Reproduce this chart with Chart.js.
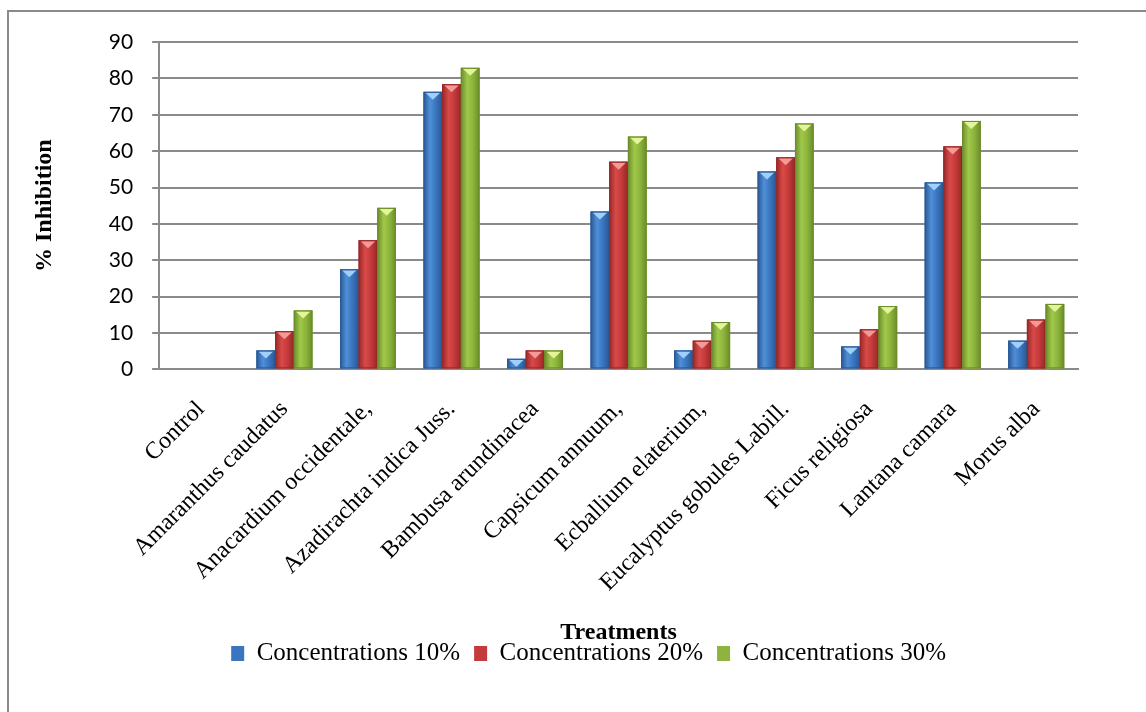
<!DOCTYPE html>
<html>
<head>
<meta charset="utf-8">
<script src="https://cdn.jsdelivr.net/npm/chart.js@4.4.1/dist/chart.umd.min.js"></script>
<style>
    body { margin: 0; background: #fff; }
    .wrap { position: relative; width: 1146px; height: 712px; }
    .frame {
        position: absolute; left: 7px; top: 10px; right: 0; bottom: 0;
        border-left: 2px solid #8a8a8a; border-top: 2px solid #8a8a8a;
        pointer-events: none;
    }
</style>
</head>
<body>
<div class="wrap">
    <canvas id="chart"></canvas>
    <div class="frame"></div>
</div>
<script>
// Données du graphique
const treatments = [
    'Control', 'Amaranthus caudatus', 'Anacardium occidentale,', 'Azadirachta indica Juss.',
    'Bambusa arundinacea', 'Capsicum annuum,', 'Ecballium elaterium,', 'Eucalyptus gobules Labill.',
    'Ficus religiosa', 'Lantana camara', 'Morus alba'
];
const conc10 = [0, 5.2, 27.5, 76.3, 2.9, 43.4, 5.2, 54.4, 6.3, 51.4, 7.9];
const conc20 = [0, 10.5, 35.5, 78.4, 5.2, 57.1, 7.9, 58.3, 11.0, 61.3, 13.7];
const conc30 = [0, 16.2, 44.4, 82.9, 5.2, 64.0, 13.0, 67.6, 17.4, 68.3, 18.0];
const seriesLabels = ['Concentrations 10%', 'Concentrations 20%', 'Concentrations 30%'];
const yTicks = [0, 10, 20, 30, 40, 50, 60, 70, 80, 90];

// Couleurs : base, bord sombre, centre clair, pointe claire
const palette = [
    { base: '#3a76c0', dark: '#2a5894', light: '#4f8fd8', tip: '#9fd0fa' },
    { base: '#c53a3a', dark: '#962828', light: '#d84a48', tip: '#f49a96' },
    { base: '#8db43c', dark: '#6a8c2a', light: '#a0c84a', tip: '#e2f59a' }
];

// Effet "biseau" façon Excel sur chaque barre
const bevelPlugin = {
    id: 'bevel',
    afterDatasetsDraw(chart) {
        const ctx = chart.ctx;
        chart.data.datasets.forEach((ds, i) => {
            const meta = chart.getDatasetMeta(i);
            const col = palette[i];
            meta.data.forEach(bar => {
                const p = bar.getProps(['x', 'y', 'base', 'width'], true);
                const h = p.base - p.y;
                if (h <= 0.5) return;
                const left = p.x - p.width / 2;
                const right = p.x + p.width / 2;
                const grad = ctx.createLinearGradient(left, 0, right, 0);
                grad.addColorStop(0, col.dark);
                grad.addColorStop(0.35, col.light);
                grad.addColorStop(0.65, col.base);
                grad.addColorStop(1, col.dark);
                ctx.save();
                ctx.fillStyle = grad;
                ctx.fillRect(left, p.y, p.width, h);
                // pointe claire en haut
                const th = Math.min(8, h);
                ctx.fillStyle = col.tip;
                ctx.beginPath();
                ctx.moveTo(left + 2, p.y + 1);
                ctx.lineTo(right - 2, p.y + 1);
                ctx.lineTo(p.x, p.y + th);
                ctx.closePath();
                ctx.fill();
                ctx.strokeStyle = col.dark;
                ctx.lineWidth = 1;
                ctx.strokeRect(left + 0.5, p.y + 0.5, p.width - 1, h - 1);
                ctx.restore();
            });
        });
    }
};

// Décale un peu la légende vers la gauche, comme dans l'original
const legendShift = {
    id: 'legendShift',
    afterLayout(chart) {
        if (chart.legend) {
            chart.legend.left -= 30;
            chart.legend.right -= 30;
        }
    }
};

const dataSeries = [conc10, conc20, conc30];
const serif = '"Liberation Serif", "Times New Roman", serif';

new Chart(document.getElementById('chart'), {
    type: 'bar',
    data: {
        labels: treatments,
        datasets: dataSeries.map((values, i) => ({
            label: seriesLabels[i],
            data: values,
            backgroundColor: palette[i].base,
            borderWidth: 0,
            barPercentage: 1,
            categoryPercentage: 0.67
        }))
    },
    options: {
        responsive: true,
        maintainAspectRatio: false,
        animation: false,
        layout: { padding: { top: 42, right: 68, left: 30, bottom: 36 } },
        plugins: {
            tooltip: { enabled: false },
            legend: {
                position: 'bottom',
                fullSize: false,
                labels: {
                    color: '#000',
                    font: { family: serif, size: 25 },
                    boxWidth: 13,
                    boxHeight: 15,
                    padding: 14
                }
            }
        },
        scales: {
            x: {
                grid: { display: false },
                border: { display: true, color: '#8a8a8a', width: 2 },
                ticks: {
                    color: '#000',
                    maxRotation: 45,
                    minRotation: 45,
                    autoSkip: false,
                    padding: 18,
                    font: { family: serif, size: 24 }
                },
                title: {
                    display: true,
                    text: 'Treatments',
                    color: '#000',
                    padding: { top: 3, bottom: -20 },
                    font: { family: serif, size: 24, weight: 'bold' }
                }
            },
            y: {
                min: 0,
                max: 90,
                afterBuildTicks(scale) {
                    scale.ticks = yTicks.map(v => ({ value: v }));
                },
                grid: { color: '#8a8a8a', lineWidth: 2, tickLength: 7 },
                border: { display: true, color: '#8a8a8a', width: 2 },
                ticks: {
                    color: '#000',
                    padding: 19,
                    font: { family: 'Lato, "Open Sans", sans-serif', size: 21 }
                },
                title: {
                    display: true,
                    text: '% Inhibition',
                    color: '#000',
                    padding: { top: 0, bottom: 31 },
                    font: { family: serif, size: 24, weight: 'bold' }
                }
            }
        }
    },
    plugins: [bevelPlugin, legendShift]
});
</script>
</body>
</html>
